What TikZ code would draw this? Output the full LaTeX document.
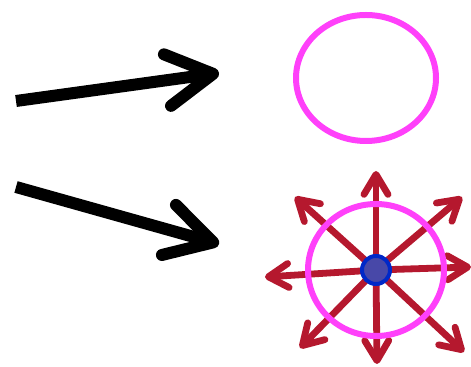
\documentclass[tikz,border=0pt]{standalone}
\usepackage{xcolor}
\usepackage{tikz}
\usetikzlibrary{arrows.meta, shapes.geometric}
\definecolor{ringpink}{RGB}{255,64,250}
\definecolor{raycol}{RGB}{181,24,46}
\definecolor{hubblue}{RGB}{0,40,200}
\definecolor{hubfill}{RGB}{72,72,168}
\begin{document}
\begin{tikzpicture}[x=0.5pt, y=-0.5pt,
    bigarrow/.style={-{Straight Barb[length=23pt, width=26pt, round]}, line width=6pt},
    ray/.style={-{Straight Barb[length=10pt, width=12pt, round]}, line width=3.4pt, draw=raycol},
    ring/.style={draw=ringpink, line width=3pt, ellipse, inner sep=0pt},
    hub/.style={circle, draw=hubblue, fill=hubfill, line width=2pt, minimum size=14pt, inner sep=0pt},
  ]
  \useasboundingbox (0,0) rectangle (471,367);
  % left side arrows
  \coordinate (s1) at (16,101);
  \coordinate (s2) at (16,187);
  \node[ring, minimum width=70pt, minimum height=63pt] (blob) at (366,78) {};
  \coordinate (t1) at (219,73);
  \coordinate (t2) at (219,244);
  \draw[bigarrow] (s1) -- (t1);
  \draw[bigarrow] (s2) -- (t2);
  % exploding circle
  \coordinate (c) at (376,270);
  \coordinate (rN) at (376,171);
  \coordinate (rS) at (377,364);
  \coordinate (rW) at (265,277);
  \coordinate (rE) at (471,267);
  \coordinate (rNW) at (295,197);
  \coordinate (rNE) at (462,197);
  \coordinate (rSW) at (300,348);
  \coordinate (rSE) at (464,352);
  \draw[ray] (c) -- (rN);
  \draw[ray] (c) -- (rS);
  \draw[ray] (c) -- (rW);
  \draw[ray] (c) -- (rE);
  \draw[ray] (c) -- (rNW);
  \draw[ray] (c) -- (rNE);
  \draw[ray] (c) -- (rSW);
  \draw[ray] (c) -- (rSE);
  \node[ring, minimum width=68pt, minimum height=66pt] (wheel) at (c) {};
  \node[hub] (dot) at (c) {};
\end{tikzpicture}
\end{document}
